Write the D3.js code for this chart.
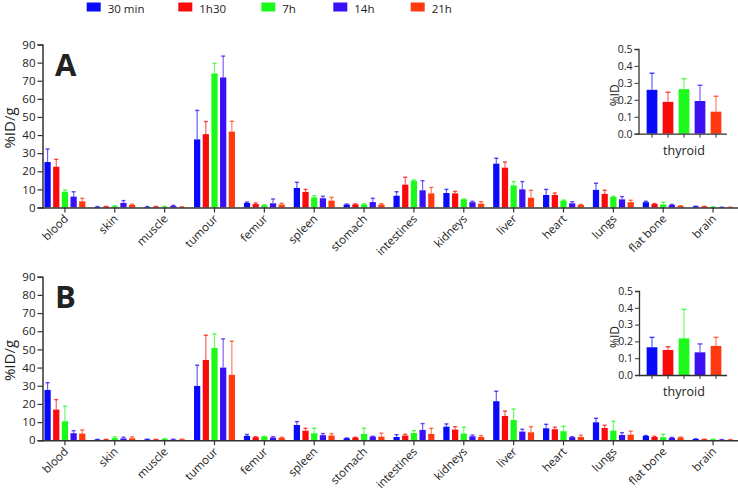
<!DOCTYPE html>
<html>
<head>
<meta charset="utf-8">
<script src="https://cdn.jsdelivr.net/npm/d3@7"></script>
<style>
  body { margin: 0; background: #fff; }
  svg { display: block; }
  text { font-family: "Open Sans", "Liberation Sans", sans-serif; fill: #222; }
</style>
</head>
<body>
<svg id="chart" width="738" height="490"></svg>
<script>
// ---- data ----
const categories = ["blood","skin","muscle","tumour","femur","spleen","stomach","intestines","kidneys","liver","heart","lungs","flat bone","brain"];
const seriesNames = ["30 min","1h30","7h","14h","21h"];
const seriesColors = ["#0a0afa","#fa0a0a","#1cfa1c","#3a10f5","#ff3a10"];
const yTicksMain = [0,10,20,30,40,50,60,70,80,90];
const yTicksInset = [0,0.1,0.2,0.3,0.4,0.5];

// Panel A means (rows = categories, cols = series)
const meanA_30min = [25.1,0.3,0.3,37.6,2.5,10.8,1.6,6.5,8.0,24.2,6.9,9.7,2.9,0.6];
const meanA_1h30  = [22.5,0.5,0.4,40.5,1.9,8.6,1.7,12.6,7.8,22.0,6.9,7.5,1.9,0.5];
const meanA_7h    = [8.7,0.7,0.4,74.0,1.2,5.6,1.7,14.8,4.5,12.2,3.8,5.8,1.7,0.3];
const meanA_14h   = [6.0,2.5,0.8,71.8,2.3,5.1,3.0,9.5,2.9,10.0,2.3,4.5,1.4,0.1];
const meanA_21h   = [3.4,1.4,0.3,41.9,1.6,3.8,1.6,7.8,2.1,5.4,1.4,2.9,0.8,0.1];
// Panel A error bar tops
const errA_30min = [32.3,0.5,0.5,53.6,3.0,13.9,1.9,8.7,10.0,27.2,10.0,13.4,3.4,0.7];
const errA_1h30  = [26.6,0.6,0.6,47.5,2.5,10.0,2.0,16.7,8.9,25.1,8.0,9.5,2.2,0.6];
const errA_7h    = [9.7,1.0,0.6,79.6,1.5,6.5,2.0,15.2,4.7,14.3,4.1,6.2,2.9,0.4];
const errA_14h   = [8.7,3.8,1.2,83.6,4.7,6.2,5.1,14.8,3.4,14.3,3.2,6.0,1.7,0.2];
const errA_21h   = [5.1,1.8,0.4,47.6,2.3,5.6,2.1,11.1,3.2,9.5,1.7,4.0,1.0,0.2];

// Panel B means
const meanB_30min = [27.7,0.4,0.5,29.9,2.4,8.4,1.1,1.8,7.5,21.5,6.6,9.9,2.4,0.7];
const meanB_1h30  = [16.9,0.4,0.4,44.2,1.7,5.3,1.5,2.6,5.9,13.4,6.1,6.8,1.8,0.5];
const meanB_7h    = [10.5,1.2,0.7,50.8,2.0,3.9,3.5,4.0,3.7,11.2,5.0,5.3,1.7,0.5];
const meanB_14h   = [3.9,1.0,0.4,40.0,1.5,2.8,2.0,5.7,2.2,4.8,1.7,2.9,1.3,0.3];
const meanB_21h   = [3.7,1.1,0.5,36.0,1.3,2.6,2.0,3.5,1.8,4.4,1.8,3.1,1.5,0.3];
// Panel B error bar tops
const errB_30min = [31.7,0.5,0.6,41.3,3.2,10.3,1.3,3.1,9.0,27.0,8.8,12.1,2.6,0.8];
const errB_1h30  = [22.4,0.5,0.5,57.8,2.0,6.6,1.7,3.3,7.5,16.1,7.2,8.3,2.2,0.6];
const errB_7h    = [18.7,1.9,0.9,58.5,2.2,6.6,6.6,5.3,7.2,17.2,7.7,10.5,3.3,0.6];
const errB_14h   = [5.3,1.7,0.6,55.8,2.0,3.7,2.2,9.2,2.9,6.1,2.0,4.2,1.6,0.4];
const errB_21h   = [5.7,1.9,0.6,54.5,1.7,3.7,3.9,6.6,2.6,7.5,2.8,5.0,1.8,0.4];

// Thyroid insets
const thyroidA_mean = [0.259,0.188,0.263,0.193,0.130];
const thyroidA_err  = [0.357,0.245,0.325,0.286,0.221];
const thyroidB_mean = [0.165,0.149,0.218,0.135,0.173];
const thyroidB_err  = [0.224,0.168,0.391,0.185,0.224];

// ---- build ----
const svg = d3.select("#chart");

function buildRows(means, errs) {
  return categories.map((c, i) => ({
    cat: c,
    vals: seriesNames.map((s, j) => ({ s, j, v: means[j][i], e: errs[j][i] }))
  }));
}

const x0 = d3.scaleBand().domain(categories).range([40, 738]).paddingInner(0.13).paddingOuter(0.065);
const x1 = d3.scaleBand().domain(seriesNames).range([0, x0.bandwidth()]).paddingInner(0.28).paddingOuter(0.14);

function drawErr(g, x, w, yv, ye, color, cap) {
  g.append("line").attr("x1", x + w / 2).attr("x2", x + w / 2).attr("y1", yv).attr("y2", ye)
    .attr("stroke", color).attr("stroke-opacity", 0.65).attr("stroke-width", 1.2);
  g.append("line").attr("x1", x + w / 2 - cap).attr("x2", x + w / 2 + cap).attr("y1", ye).attr("y2", ye)
    .attr("stroke", color).attr("stroke-opacity", 0.75).attr("stroke-width", 1.4);
}

function mainPanel(y0px, y90px, rows, letter) {
  const y = d3.scaleLinear().domain([0, 90]).range([y0px, y90px]);
  const g = svg.append("g");

  rows.forEach(r => {
    const gg = g.append("g").attr("transform", `translate(${x0(r.cat)},0)`);
    r.vals.forEach(d => {
      drawErr(gg, x1(d.s), x1.bandwidth(), y(d.v), y(d.e), seriesColors[d.j], 2);
      gg.append("rect").attr("x", x1(d.s)).attr("width", x1.bandwidth())
        .attr("y", y(d.v)).attr("height", y0px - y(d.v))
        .attr("fill", seriesColors[d.j]);
    });
  });

  const ya = g.append("g").attr("transform", "translate(42.5,0)")
    .call(d3.axisLeft(y).tickValues(yTicksMain).tickSize(5).tickPadding(2));
  ya.select(".domain").attr("stroke", "#333").attr("stroke-width", 1.5);
  ya.selectAll(".tick line").attr("stroke", "#333").attr("stroke-width", 1.2);
  ya.selectAll(".tick text").attr("font-size", 11.5).attr("font-family", "Liberation Sans, Arial, sans-serif").attr("fill", "#222");

  const xa = g.append("g").attr("transform", `translate(0,${y0px})`)
    .call(d3.axisBottom(x0).tickSize(5).tickSizeOuter(0));
  xa.select(".domain").attr("stroke", "#333").attr("stroke-width", 1.5).attr("d", `M42,0.5H738`);
  xa.selectAll(".tick line").attr("stroke", "#333").attr("stroke-width", 1.2);
  xa.selectAll(".tick text")
    .attr("font-size", 11.5)
    .attr("text-anchor", "end")
    .attr("dy", 0).attr("y", 0)
    .attr("transform", "translate(4,12) rotate(-45)");

  g.append("text").attr("transform", `translate(15,${(y0px + y90px) / 2 + 2}) rotate(-90)`)
    .attr("text-anchor", "middle").attr("font-size", 15).text("%ID/g");

  g.append("text").attr("x", 55).attr("y", y90px + 31)
    .attr("font-size", 31).attr("font-weight", "bold")
    .attr("font-family", "Liberation Sans, Arial, sans-serif").attr("fill", "#000")
    .text(letter);
}

function inset(axisX, y0px, y05px, means, errs, labelY) {
  const g = svg.append("g");
  const y = d3.scaleLinear().domain([0, 0.5]).range([y0px, y05px]);
  const xs = d3.scaleBand().domain(seriesNames).range([644, 724]).paddingInner(0.33).paddingOuter(0.165);
  seriesNames.forEach((s, j) => {
    drawErr(g, xs(s), xs.bandwidth(), y(means[j]), y(errs[j]), seriesColors[j], 2.5);
    g.append("rect").attr("x", xs(s)).attr("width", xs.bandwidth())
      .attr("y", y(means[j])).attr("height", y0px - y(means[j]))
      .attr("fill", seriesColors[j]);
  });
  const ya = g.append("g").attr("transform", `translate(${axisX},0)`)
    .call(d3.axisLeft(y).tickValues(yTicksInset).tickFormat(d3.format(".1f")).tickSize(4).tickPadding(2));
  ya.select(".domain").attr("stroke", "#333").attr("stroke-width", 1.3);
  ya.selectAll(".tick line").attr("stroke", "#333");
  ya.selectAll(".tick text").attr("font-size", 10.5).attr("font-family", "Liberation Sans, Arial, sans-serif").attr("fill", "#222");

  const xa = g.append("g").attr("transform", `translate(0,${y0px})`)
    .call(d3.axisBottom(xs).tickSize(4).tickSizeOuter(0).tickFormat(""));
  xa.select(".domain").attr("stroke", "#333").attr("stroke-width", 1.3).attr("d", `M${axisX},0.5H727`);
  xa.selectAll(".tick line").attr("stroke", "#333");

  g.append("text").attr("x", (644 + 724) / 2).attr("y", labelY).attr("text-anchor", "middle")
    .attr("font-size", 12.5).text("thyroid");
  g.append("text").attr("transform", `translate(${axisX - 20},${(y0px + y05px) / 2 + 4}) rotate(-90)`)
    .attr("text-anchor", "middle").attr("font-size", 12).text("%ID");
}

const rowsA = buildRows([meanA_30min, meanA_1h30, meanA_7h, meanA_14h, meanA_21h],
                        [errA_30min, errA_1h30, errA_7h, errA_14h, errA_21h]);
const rowsB = buildRows([meanB_30min, meanB_1h30, meanB_7h, meanB_14h, meanB_21h],
                        [errB_30min, errB_1h30, errB_7h, errB_14h, errB_21h]);

mainPanel(207.5, 44.5, rowsA, "A");
mainPanel(440.3, 276.7, rowsB, "B");
inset(638.5, 133.7, 49, thyroidA_mean, thyroidA_err, 155);
inset(639, 375, 291, thyroidB_mean, thyroidB_err, 396);

// legend
const legendX = [86.7, 178.3, 261.3, 333.3, 410.7];
const lg = svg.append("g");
seriesNames.forEach((s, j) => {
  lg.append("rect").attr("x", legendX[j]).attr("y", 2.5).attr("width", 14).attr("height", 9).attr("fill", seriesColors[j]);
  lg.append("text").attr("x", legendX[j] + 21).attr("y", 12.5).attr("font-size", 11.5)
    .attr("font-family", "Liberation Sans, Arial, sans-serif").text(s);
});
</script>
</body>
</html>
